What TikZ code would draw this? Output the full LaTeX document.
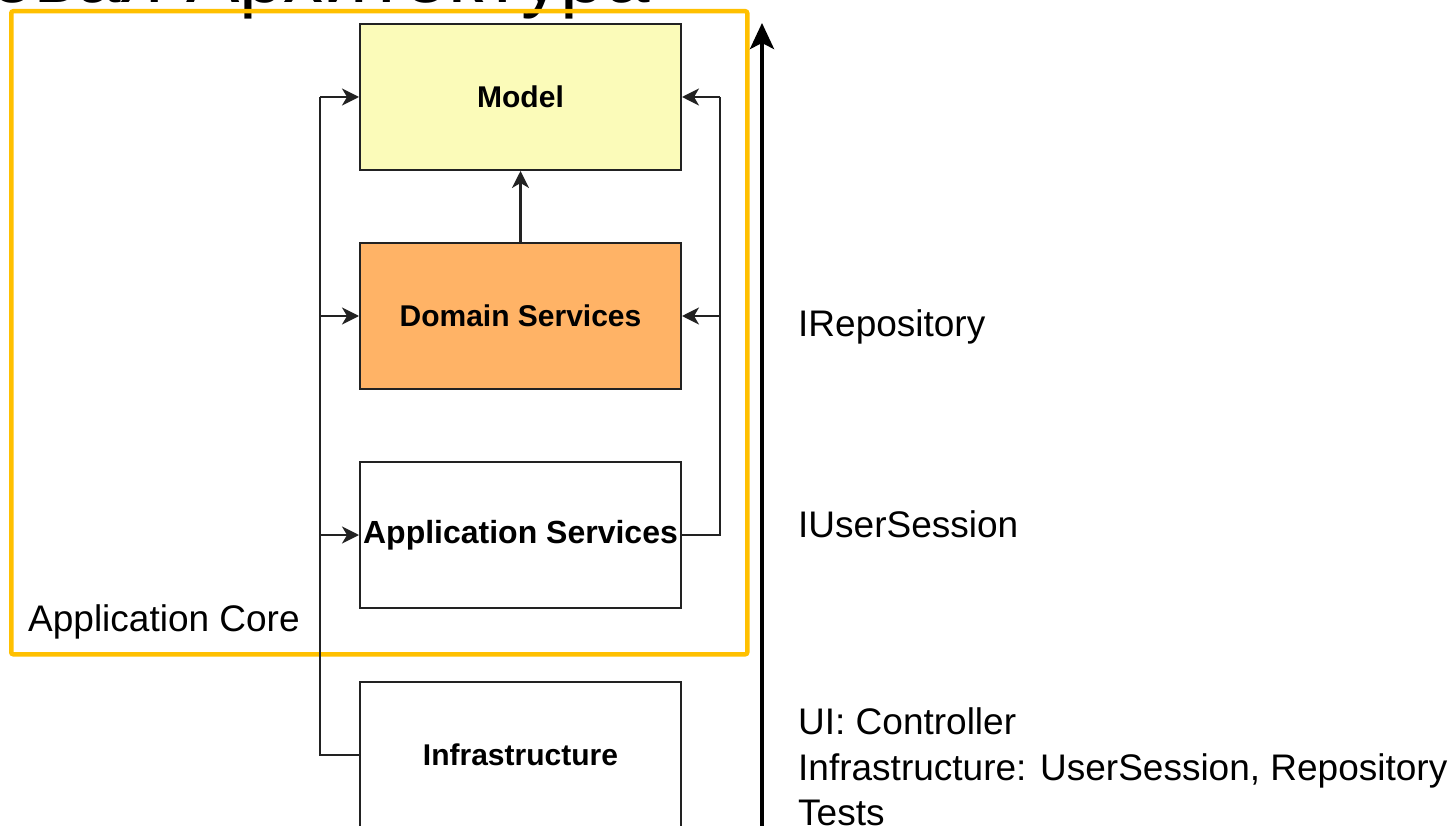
\documentclass[tikz,border=0pt]{standalone}
\usepackage{fontspec}
\setmainfont{Liberation Sans}
\usetikzlibrary{arrows.meta}
\definecolor{coreframe}{RGB}{255,192,0}
\definecolor{modelfill}{RGB}{251,251,185}
\definecolor{domainfill}{RGB}{255,179,102}
\definecolor{edge}{RGB}{34,34,34}
\tikzset{
  layer/.style={draw=edge, line width=2pt, minimum width=321pt, minimum height=146pt,
    inner sep=0pt, font=\fontsize{30}{36}\selectfont\bfseries},
  conn/.style={draw=edge, line width=2.2pt},
  arr/.style={conn, -{Stealth[length=17pt, width=17pt, inset=5pt]}},
  bigarr/.style={draw=black, line width=4pt, -{Stealth[length=26pt, width=24pt, inset=6pt]}},
  note/.style={anchor=west, inner sep=0pt, align=left, font=\fontsize{37}{45.5}\selectfont},
}
\begin{document}
\begin{tikzpicture}[x=1pt, y=-1pt]
  \clip (0,0) rectangle (1453,826);
  \fill[white] (0,0) rectangle (1453,826);

  % heading, mostly above the visible area
  \node[anchor=base east, inner sep=0pt, font=\fontsize{80}{90}\selectfont] (title) at (650,3) {Луковая Архитектура};

  % application core frame
  \node[draw=coreframe, line width=4.5pt, rounded corners=2pt, minimum width=736pt, minimum height=643pt,
        anchor=north west, inner sep=0pt] (core) at (9,9) {};
  \node[note] (corelabel) at (28,622) {Application Core};

  % layers
  \node[layer, fill=modelfill] (model) at (520.5,97) {Model};
  \node[layer, fill=domainfill] (dom) at (520.5,316) {Domain Services};
  \node[layer, fill=white, font=\fontsize{32}{38}\selectfont\bfseries] (app) at (520.5,535) {Application Services};
  \node[layer, fill=white] (infra) at (520.5,755) {Infrastructure};

  % rails
  \coordinate (lrail) at (320,0);
  \coordinate (rrail) at (720,0);

  % domain depends on model
  \draw[arr] (dom.north) -- (model.south);

  % infrastructure depends on everything above
  \draw[conn] (infra.west) -- (lrail |- infra.west) -- (lrail |- model.west);
  \draw[arr] (lrail |- model.west) -- (model.west);
  \draw[arr] (lrail |- dom.west) -- (dom.west);
  \draw[arr] (lrail |- app.west) -- (app.west);

  % application services depend on domain and model
  \draw[conn] (app.east) -- (rrail |- app.east) -- (rrail |- model.east);
  \draw[arr] (rrail |- model.east) -- (model.east);
  \draw[arr] (rrail |- dom.east) -- (dom.east);

  % direction of dependencies
  \coordinate (abot) at (762,830);
  \coordinate (atop) at (762,23);
  \draw[bigarr] (abot) -- (atop);

  % notes
  \node[note] (repo) at (798,327) {IRepository};
  \node[note] (sess) at (798,524) {IUserSession};
  \node[note] (impl) at (798,767) {UI: Controller\\Infrastructure: UserSession, Repository\\Tests};
\end{tikzpicture}
\end{document}
